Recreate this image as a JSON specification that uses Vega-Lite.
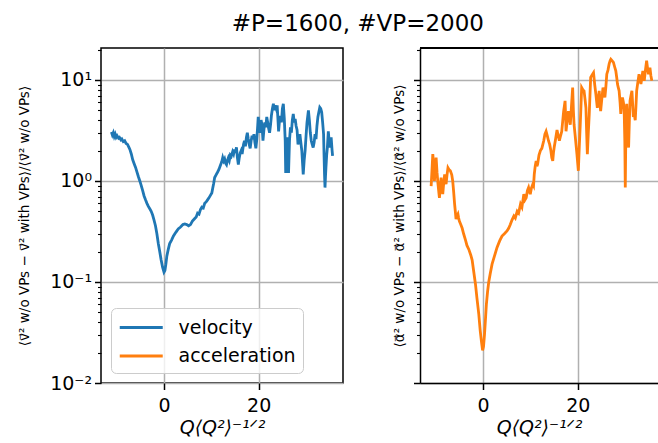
{
  "$schema": "https://vega.github.io/schema/vega-lite/v6.json",
  "padding": {"left": 16, "top": 13, "right": 0, "bottom": 0},
  "title": {"text": "#P=1600, #VP=2000", "fontSize": 23, "fontWeight": "normal", "font": "DejaVu Sans", "color": "black", "anchor": "middle", "offset": 11, "dx": 20},
  "config": {
    "font": "DejaVu Sans",
    "view": {"stroke": "black", "strokeWidth": 1.5},
    "axis": {"labelColor": "black", "titleColor": "black", "tickColor": "black", "domainColor": "black", "domainWidth": 1.5, "labelFont": "DejaVu Sans", "titleFont": "DejaVu Sans", "titleFontWeight": "normal", "gridColor": "#b0b0b0", "gridWidth": 1.5}
  },
  "datasets": {
    "curves": [
      {"q": -11.1, "ratio": 3.05, "series": "velocity"},
      {"q": -10.9, "ratio": 2.85, "series": "velocity"},
      {"q": -10.7, "ratio": 3.0, "series": "velocity"},
      {"q": -10.5, "ratio": 2.75, "series": "velocity"},
      {"q": -10.3, "ratio": 2.9, "series": "velocity"},
      {"q": -10.1, "ratio": 2.7, "series": "velocity"},
      {"q": -9.9, "ratio": 2.8, "series": "velocity"},
      {"q": -9.6, "ratio": 2.65, "series": "velocity"},
      {"q": -9.4, "ratio": 2.7, "series": "velocity"},
      {"q": -9.1, "ratio": 2.55, "series": "velocity"},
      {"q": -8.9, "ratio": 2.6, "series": "velocity"},
      {"q": -8.6, "ratio": 2.45, "series": "velocity"},
      {"q": -8.3, "ratio": 2.5, "series": "velocity"},
      {"q": -8.0, "ratio": 2.35, "series": "velocity"},
      {"q": -7.7, "ratio": 2.3, "series": "velocity"},
      {"q": -7.4, "ratio": 2.15, "series": "velocity"},
      {"q": -7.2, "ratio": 2.05, "series": "velocity"},
      {"q": -6.9, "ratio": 1.85, "series": "velocity"},
      {"q": -6.6, "ratio": 1.62, "series": "velocity"},
      {"q": -6.3, "ratio": 1.48, "series": "velocity"},
      {"q": -6.0, "ratio": 1.36, "series": "velocity"},
      {"q": -5.7, "ratio": 1.22, "series": "velocity"},
      {"q": -5.4, "ratio": 1.1, "series": "velocity"},
      {"q": -5.1, "ratio": 1.0, "series": "velocity"},
      {"q": -4.8, "ratio": 0.9, "series": "velocity"},
      {"q": -4.5, "ratio": 0.8, "series": "velocity"},
      {"q": -4.2, "ratio": 0.71, "series": "velocity"},
      {"q": -3.9, "ratio": 0.65, "series": "velocity"},
      {"q": -3.6, "ratio": 0.6, "series": "velocity"},
      {"q": -3.3, "ratio": 0.56, "series": "velocity"},
      {"q": -3.0, "ratio": 0.53, "series": "velocity"},
      {"q": -2.7, "ratio": 0.5, "series": "velocity"},
      {"q": -2.4, "ratio": 0.46, "series": "velocity"},
      {"q": -2.1, "ratio": 0.41, "series": "velocity"},
      {"q": -1.8, "ratio": 0.36, "series": "velocity"},
      {"q": -1.5, "ratio": 0.3, "series": "velocity"},
      {"q": -1.2, "ratio": 0.24, "series": "velocity"},
      {"q": -0.9, "ratio": 0.2, "series": "velocity"},
      {"q": -0.6, "ratio": 0.165, "series": "velocity"},
      {"q": -0.3, "ratio": 0.14, "series": "velocity"},
      {"q": 0.0, "ratio": 0.125, "series": "velocity"},
      {"q": 0.2, "ratio": 0.13, "series": "velocity"},
      {"q": 0.4, "ratio": 0.15, "series": "velocity"},
      {"q": 0.6, "ratio": 0.18, "series": "velocity"},
      {"q": 0.9, "ratio": 0.21, "series": "velocity"},
      {"q": 1.2, "ratio": 0.24, "series": "velocity"},
      {"q": 1.6, "ratio": 0.26, "series": "velocity"},
      {"q": 2.0, "ratio": 0.285, "series": "velocity"},
      {"q": 2.5, "ratio": 0.31, "series": "velocity"},
      {"q": 3.0, "ratio": 0.335, "series": "velocity"},
      {"q": 3.5, "ratio": 0.35, "series": "velocity"},
      {"q": 4.0, "ratio": 0.37, "series": "velocity"},
      {"q": 4.4, "ratio": 0.375, "series": "velocity"},
      {"q": 4.8, "ratio": 0.37, "series": "velocity"},
      {"q": 5.2, "ratio": 0.36, "series": "velocity"},
      {"q": 5.6, "ratio": 0.37, "series": "velocity"},
      {"q": 6.0, "ratio": 0.4, "series": "velocity"},
      {"q": 6.4, "ratio": 0.42, "series": "velocity"},
      {"q": 6.8, "ratio": 0.44, "series": "velocity"},
      {"q": 7.1, "ratio": 0.48, "series": "velocity"},
      {"q": 7.4, "ratio": 0.47, "series": "velocity"},
      {"q": 7.7, "ratio": 0.52, "series": "velocity"},
      {"q": 8.0, "ratio": 0.55, "series": "velocity"},
      {"q": 8.3, "ratio": 0.54, "series": "velocity"},
      {"q": 8.6, "ratio": 0.6, "series": "velocity"},
      {"q": 8.9, "ratio": 0.62, "series": "velocity"},
      {"q": 9.2, "ratio": 0.65, "series": "velocity"},
      {"q": 9.5, "ratio": 0.68, "series": "velocity"},
      {"q": 9.8, "ratio": 0.72, "series": "velocity"},
      {"q": 10.1, "ratio": 0.76, "series": "velocity"},
      {"q": 10.3, "ratio": 0.85, "series": "velocity"},
      {"q": 10.5, "ratio": 0.95, "series": "velocity"},
      {"q": 10.7, "ratio": 1.08, "series": "velocity"},
      {"q": 11.0, "ratio": 1.15, "series": "velocity"},
      {"q": 11.3, "ratio": 1.22, "series": "velocity"},
      {"q": 11.6, "ratio": 1.3, "series": "velocity"},
      {"q": 11.9, "ratio": 1.42, "series": "velocity"},
      {"q": 12.2, "ratio": 1.55, "series": "velocity"},
      {"q": 12.4, "ratio": 1.7, "series": "velocity"},
      {"q": 12.6, "ratio": 1.58, "series": "velocity"},
      {"q": 12.8, "ratio": 1.65, "series": "velocity"},
      {"q": 13.0, "ratio": 1.5, "series": "velocity"},
      {"q": 13.2, "ratio": 1.45, "series": "velocity"},
      {"q": 13.4, "ratio": 1.6, "series": "velocity"},
      {"q": 13.6, "ratio": 1.7, "series": "velocity"},
      {"q": 13.8, "ratio": 1.6, "series": "velocity"},
      {"q": 14.0, "ratio": 1.8, "series": "velocity"},
      {"q": 14.2, "ratio": 1.75, "series": "velocity"},
      {"q": 14.5, "ratio": 1.95, "series": "velocity"},
      {"q": 14.7, "ratio": 1.85, "series": "velocity"},
      {"q": 14.9, "ratio": 2.05, "series": "velocity"},
      {"q": 15.1, "ratio": 1.9, "series": "velocity"},
      {"q": 15.3, "ratio": 2.15, "series": "velocity"},
      {"q": 15.5, "ratio": 1.7, "series": "velocity"},
      {"q": 15.7, "ratio": 1.45, "series": "velocity"},
      {"q": 15.9, "ratio": 1.7, "series": "velocity"},
      {"q": 16.1, "ratio": 1.9, "series": "velocity"},
      {"q": 16.3, "ratio": 2.0, "series": "velocity"},
      {"q": 16.5, "ratio": 1.85, "series": "velocity"},
      {"q": 16.8, "ratio": 2.3, "series": "velocity"},
      {"q": 17.0, "ratio": 2.5, "series": "velocity"},
      {"q": 17.2, "ratio": 2.2, "series": "velocity"},
      {"q": 17.4, "ratio": 2.7, "series": "velocity"},
      {"q": 17.6, "ratio": 3.0, "series": "velocity"},
      {"q": 17.8, "ratio": 2.6, "series": "velocity"},
      {"q": 18.0, "ratio": 2.3, "series": "velocity"},
      {"q": 18.2, "ratio": 2.1, "series": "velocity"},
      {"q": 18.4, "ratio": 2.5, "series": "velocity"},
      {"q": 18.6, "ratio": 2.8, "series": "velocity"},
      {"q": 18.8, "ratio": 2.6, "series": "velocity"},
      {"q": 19.0, "ratio": 2.9, "series": "velocity"},
      {"q": 19.2, "ratio": 2.4, "series": "velocity"},
      {"q": 19.4, "ratio": 2.1, "series": "velocity"},
      {"q": 19.6, "ratio": 2.6, "series": "velocity"},
      {"q": 19.8, "ratio": 3.6, "series": "velocity"},
      {"q": 19.9, "ratio": 4.3, "series": "velocity"},
      {"q": 20.1, "ratio": 3.5, "series": "velocity"},
      {"q": 20.3, "ratio": 3.0, "series": "velocity"},
      {"q": 20.5, "ratio": 4.0, "series": "velocity"},
      {"q": 20.7, "ratio": 3.6, "series": "velocity"},
      {"q": 20.9, "ratio": 2.5, "series": "velocity"},
      {"q": 21.1, "ratio": 3.2, "series": "velocity"},
      {"q": 21.3, "ratio": 3.8, "series": "velocity"},
      {"q": 21.5, "ratio": 3.4, "series": "velocity"},
      {"q": 21.7, "ratio": 4.3, "series": "velocity"},
      {"q": 21.9, "ratio": 3.8, "series": "velocity"},
      {"q": 22.1, "ratio": 3.3, "series": "velocity"},
      {"q": 22.3, "ratio": 3.0, "series": "velocity"},
      {"q": 22.5, "ratio": 3.6, "series": "velocity"},
      {"q": 22.7, "ratio": 4.5, "series": "velocity"},
      {"q": 22.9, "ratio": 5.2, "series": "velocity"},
      {"q": 23.1, "ratio": 5.8, "series": "velocity"},
      {"q": 23.3, "ratio": 5.0, "series": "velocity"},
      {"q": 23.5, "ratio": 5.6, "series": "velocity"},
      {"q": 23.7, "ratio": 5.2, "series": "velocity"},
      {"q": 23.9, "ratio": 5.6, "series": "velocity"},
      {"q": 24.1, "ratio": 3.8, "series": "velocity"},
      {"q": 24.2, "ratio": 3.1, "series": "velocity"},
      {"q": 24.4, "ratio": 4.0, "series": "velocity"},
      {"q": 24.6, "ratio": 4.4, "series": "velocity"},
      {"q": 24.8, "ratio": 3.8, "series": "velocity"},
      {"q": 25.0, "ratio": 5.2, "series": "velocity"},
      {"q": 25.2, "ratio": 5.8, "series": "velocity"},
      {"q": 25.4, "ratio": 4.2, "series": "velocity"},
      {"q": 25.6, "ratio": 2.5, "series": "velocity"},
      {"q": 25.7, "ratio": 1.2, "series": "velocity"},
      {"q": 25.9, "ratio": 2.0, "series": "velocity"},
      {"q": 26.1, "ratio": 2.7, "series": "velocity"},
      {"q": 26.3, "ratio": 1.2, "series": "velocity"},
      {"q": 26.5, "ratio": 2.5, "series": "velocity"},
      {"q": 26.7, "ratio": 3.4, "series": "velocity"},
      {"q": 26.9, "ratio": 3.0, "series": "velocity"},
      {"q": 27.1, "ratio": 4.0, "series": "velocity"},
      {"q": 27.3, "ratio": 4.6, "series": "velocity"},
      {"q": 27.5, "ratio": 3.8, "series": "velocity"},
      {"q": 27.7, "ratio": 4.1, "series": "velocity"},
      {"q": 27.9, "ratio": 3.5, "series": "velocity"},
      {"q": 28.1, "ratio": 3.2, "series": "velocity"},
      {"q": 28.3, "ratio": 2.3, "series": "velocity"},
      {"q": 28.5, "ratio": 2.6, "series": "velocity"},
      {"q": 28.7, "ratio": 2.9, "series": "velocity"},
      {"q": 28.9, "ratio": 2.4, "series": "velocity"},
      {"q": 29.1, "ratio": 2.0, "series": "velocity"},
      {"q": 29.3, "ratio": 1.4, "series": "velocity"},
      {"q": 29.4, "ratio": 1.16, "series": "velocity"},
      {"q": 29.6, "ratio": 1.6, "series": "velocity"},
      {"q": 29.8, "ratio": 2.0, "series": "velocity"},
      {"q": 30.0, "ratio": 2.8, "series": "velocity"},
      {"q": 30.2, "ratio": 3.8, "series": "velocity"},
      {"q": 30.5, "ratio": 5.0, "series": "velocity"},
      {"q": 30.7, "ratio": 4.0, "series": "velocity"},
      {"q": 30.9, "ratio": 3.0, "series": "velocity"},
      {"q": 31.1, "ratio": 2.5, "series": "velocity"},
      {"q": 31.3, "ratio": 2.3, "series": "velocity"},
      {"q": 31.5, "ratio": 2.14, "series": "velocity"},
      {"q": 31.7, "ratio": 2.4, "series": "velocity"},
      {"q": 31.9, "ratio": 2.9, "series": "velocity"},
      {"q": 32.1, "ratio": 2.6, "series": "velocity"},
      {"q": 32.3, "ratio": 3.5, "series": "velocity"},
      {"q": 32.5, "ratio": 4.3, "series": "velocity"},
      {"q": 32.7, "ratio": 4.8, "series": "velocity"},
      {"q": 32.9, "ratio": 5.35, "series": "velocity"},
      {"q": 33.1, "ratio": 5.2, "series": "velocity"},
      {"q": 33.3, "ratio": 4.8, "series": "velocity"},
      {"q": 33.5, "ratio": 3.8, "series": "velocity"},
      {"q": 33.7, "ratio": 2.9, "series": "velocity"},
      {"q": 33.8, "ratio": 1.8, "series": "velocity"},
      {"q": 33.9, "ratio": 1.16, "series": "velocity"},
      {"q": 34.0, "ratio": 0.86, "series": "velocity"},
      {"q": 34.1, "ratio": 1.1, "series": "velocity"},
      {"q": 34.2, "ratio": 1.36, "series": "velocity"},
      {"q": 34.35, "ratio": 1.8, "series": "velocity"},
      {"q": 34.5, "ratio": 2.14, "series": "velocity"},
      {"q": 34.7, "ratio": 3.1, "series": "velocity"},
      {"q": 34.9, "ratio": 2.4, "series": "velocity"},
      {"q": 35.1, "ratio": 2.14, "series": "velocity"},
      {"q": 35.3, "ratio": 2.7, "series": "velocity"},
      {"q": 35.5, "ratio": 2.0, "series": "velocity"},
      {"q": 35.6, "ratio": 1.77, "series": "velocity"},
      {"q": -10.95, "ratio": 0.89, "series": "acceleration"},
      {"q": -10.8, "ratio": 1.2, "series": "acceleration"},
      {"q": -10.6, "ratio": 1.84, "series": "acceleration"},
      {"q": -10.4, "ratio": 1.4, "series": "acceleration"},
      {"q": -10.25, "ratio": 1.0, "series": "acceleration"},
      {"q": -10.1, "ratio": 1.3, "series": "acceleration"},
      {"q": -9.9, "ratio": 1.7, "series": "acceleration"},
      {"q": -9.7, "ratio": 1.2, "series": "acceleration"},
      {"q": -9.5, "ratio": 0.93, "series": "acceleration"},
      {"q": -9.3, "ratio": 0.75, "series": "acceleration"},
      {"q": -9.2, "ratio": 0.68, "series": "acceleration"},
      {"q": -9.0, "ratio": 0.9, "series": "acceleration"},
      {"q": -8.85, "ratio": 1.08, "series": "acceleration"},
      {"q": -8.7, "ratio": 0.85, "series": "acceleration"},
      {"q": -8.5, "ratio": 0.74, "series": "acceleration"},
      {"q": -8.3, "ratio": 0.95, "series": "acceleration"},
      {"q": -8.1, "ratio": 1.16, "series": "acceleration"},
      {"q": -7.95, "ratio": 1.0, "series": "acceleration"},
      {"q": -7.8, "ratio": 0.93, "series": "acceleration"},
      {"q": -7.6, "ratio": 1.15, "series": "acceleration"},
      {"q": -7.4, "ratio": 1.35, "series": "acceleration"},
      {"q": -7.2, "ratio": 1.3, "series": "acceleration"},
      {"q": -6.9, "ratio": 1.26, "series": "acceleration"},
      {"q": -6.6, "ratio": 1.15, "series": "acceleration"},
      {"q": -6.4, "ratio": 1.0, "series": "acceleration"},
      {"q": -6.2, "ratio": 0.78, "series": "acceleration"},
      {"q": -6.0, "ratio": 0.59, "series": "acceleration"},
      {"q": -5.85, "ratio": 0.5, "series": "acceleration"},
      {"q": -5.7, "ratio": 0.42, "series": "acceleration"},
      {"q": -5.5, "ratio": 0.45, "series": "acceleration"},
      {"q": -5.3, "ratio": 0.47, "series": "acceleration"},
      {"q": -5.15, "ratio": 0.43, "series": "acceleration"},
      {"q": -5.0, "ratio": 0.4, "series": "acceleration"},
      {"q": -4.7, "ratio": 0.37, "series": "acceleration"},
      {"q": -4.4, "ratio": 0.34, "series": "acceleration"},
      {"q": -4.1, "ratio": 0.3, "series": "acceleration"},
      {"q": -3.7, "ratio": 0.26, "series": "acceleration"},
      {"q": -3.4, "ratio": 0.23, "series": "acceleration"},
      {"q": -3.0, "ratio": 0.21, "series": "acceleration"},
      {"q": -2.6, "ratio": 0.185, "series": "acceleration"},
      {"q": -2.3, "ratio": 0.165, "series": "acceleration"},
      {"q": -2.0, "ratio": 0.13, "series": "acceleration"},
      {"q": -1.6, "ratio": 0.095, "series": "acceleration"},
      {"q": -1.3, "ratio": 0.07, "series": "acceleration"},
      {"q": -0.9, "ratio": 0.048, "series": "acceleration"},
      {"q": -0.6, "ratio": 0.033, "series": "acceleration"},
      {"q": -0.35, "ratio": 0.026, "series": "acceleration"},
      {"q": -0.1, "ratio": 0.021, "series": "acceleration"},
      {"q": 0.1, "ratio": 0.023, "series": "acceleration"},
      {"q": 0.3, "ratio": 0.03, "series": "acceleration"},
      {"q": 0.5, "ratio": 0.042, "series": "acceleration"},
      {"q": 0.7, "ratio": 0.06, "series": "acceleration"},
      {"q": 0.95, "ratio": 0.08, "series": "acceleration"},
      {"q": 1.2, "ratio": 0.1, "series": "acceleration"},
      {"q": 1.5, "ratio": 0.12, "series": "acceleration"},
      {"q": 1.9, "ratio": 0.15, "series": "acceleration"},
      {"q": 2.4, "ratio": 0.18, "series": "acceleration"},
      {"q": 2.95, "ratio": 0.22, "series": "acceleration"},
      {"q": 3.5, "ratio": 0.255, "series": "acceleration"},
      {"q": 4.0, "ratio": 0.285, "series": "acceleration"},
      {"q": 4.5, "ratio": 0.3, "series": "acceleration"},
      {"q": 5.05, "ratio": 0.32, "series": "acceleration"},
      {"q": 5.4, "ratio": 0.34, "series": "acceleration"},
      {"q": 5.75, "ratio": 0.37, "series": "acceleration"},
      {"q": 6.1, "ratio": 0.41, "series": "acceleration"},
      {"q": 6.5, "ratio": 0.45, "series": "acceleration"},
      {"q": 6.8, "ratio": 0.43, "series": "acceleration"},
      {"q": 7.2, "ratio": 0.5, "series": "acceleration"},
      {"q": 7.5, "ratio": 0.48, "series": "acceleration"},
      {"q": 7.9, "ratio": 0.59, "series": "acceleration"},
      {"q": 8.2, "ratio": 0.55, "series": "acceleration"},
      {"q": 8.6, "ratio": 0.74, "series": "acceleration"},
      {"q": 8.85, "ratio": 0.65, "series": "acceleration"},
      {"q": 9.1, "ratio": 0.68, "series": "acceleration"},
      {"q": 9.35, "ratio": 0.8, "series": "acceleration"},
      {"q": 9.6, "ratio": 0.86, "series": "acceleration"},
      {"q": 9.8, "ratio": 0.78, "series": "acceleration"},
      {"q": 9.96, "ratio": 0.74, "series": "acceleration"},
      {"q": 10.2, "ratio": 0.85, "series": "acceleration"},
      {"q": 10.5, "ratio": 0.93, "series": "acceleration"},
      {"q": 10.65, "ratio": 0.9, "series": "acceleration"},
      {"q": 10.8, "ratio": 1.16, "series": "acceleration"},
      {"q": 11.0, "ratio": 1.4, "series": "acceleration"},
      {"q": 11.2, "ratio": 1.58, "series": "acceleration"},
      {"q": 11.35, "ratio": 1.4, "series": "acceleration"},
      {"q": 11.5, "ratio": 1.46, "series": "acceleration"},
      {"q": 11.8, "ratio": 1.8, "series": "acceleration"},
      {"q": 12.1, "ratio": 2.0, "series": "acceleration"},
      {"q": 12.4, "ratio": 2.1, "series": "acceleration"},
      {"q": 12.8, "ratio": 2.5, "series": "acceleration"},
      {"q": 13.05, "ratio": 2.9, "series": "acceleration"},
      {"q": 13.3, "ratio": 3.1, "series": "acceleration"},
      {"q": 13.55, "ratio": 2.8, "series": "acceleration"},
      {"q": 13.8, "ratio": 2.5, "series": "acceleration"},
      {"q": 14.05, "ratio": 2.3, "series": "acceleration"},
      {"q": 14.3, "ratio": 2.0, "series": "acceleration"},
      {"q": 14.5, "ratio": 1.7, "series": "acceleration"},
      {"q": 14.7, "ratio": 1.58, "series": "acceleration"},
      {"q": 14.85, "ratio": 1.9, "series": "acceleration"},
      {"q": 15.0, "ratio": 2.14, "series": "acceleration"},
      {"q": 15.3, "ratio": 2.6, "series": "acceleration"},
      {"q": 15.6, "ratio": 3.2, "series": "acceleration"},
      {"q": 15.85, "ratio": 2.8, "series": "acceleration"},
      {"q": 16.1, "ratio": 2.5, "series": "acceleration"},
      {"q": 16.35, "ratio": 2.8, "series": "acceleration"},
      {"q": 16.6, "ratio": 3.1, "series": "acceleration"},
      {"q": 16.8, "ratio": 3.9, "series": "acceleration"},
      {"q": 17.0, "ratio": 4.9, "series": "acceleration"},
      {"q": 17.15, "ratio": 5.5, "series": "acceleration"},
      {"q": 17.3, "ratio": 6.2, "series": "acceleration"},
      {"q": 17.4, "ratio": 4.5, "series": "acceleration"},
      {"q": 17.5, "ratio": 3.1, "series": "acceleration"},
      {"q": 17.75, "ratio": 4.0, "series": "acceleration"},
      {"q": 18.0, "ratio": 4.9, "series": "acceleration"},
      {"q": 18.2, "ratio": 4.2, "series": "acceleration"},
      {"q": 18.4, "ratio": 3.6, "series": "acceleration"},
      {"q": 18.65, "ratio": 5.5, "series": "acceleration"},
      {"q": 18.9, "ratio": 8.4, "series": "acceleration"},
      {"q": 19.05, "ratio": 5.0, "series": "acceleration"},
      {"q": 19.2, "ratio": 3.6, "series": "acceleration"},
      {"q": 19.5, "ratio": 2.6, "series": "acceleration"},
      {"q": 19.8, "ratio": 1.84, "series": "acceleration"},
      {"q": 20.1, "ratio": 1.26, "series": "acceleration"},
      {"q": 20.3, "ratio": 2.2, "series": "acceleration"},
      {"q": 20.5, "ratio": 3.6, "series": "acceleration"},
      {"q": 20.65, "ratio": 5.5, "series": "acceleration"},
      {"q": 20.8, "ratio": 8.4, "series": "acceleration"},
      {"q": 21.05, "ratio": 8.0, "series": "acceleration"},
      {"q": 21.3, "ratio": 7.8, "series": "acceleration"},
      {"q": 21.5, "ratio": 6.5, "series": "acceleration"},
      {"q": 21.7, "ratio": 5.3, "series": "acceleration"},
      {"q": 21.85, "ratio": 3.0, "series": "acceleration"},
      {"q": 22.0, "ratio": 1.84, "series": "acceleration"},
      {"q": 22.2, "ratio": 3.0, "series": "acceleration"},
      {"q": 22.4, "ratio": 4.6, "series": "acceleration"},
      {"q": 22.55, "ratio": 7.0, "series": "acceleration"},
      {"q": 22.7, "ratio": 10.6, "series": "acceleration"},
      {"q": 23.0, "ratio": 11.2, "series": "acceleration"},
      {"q": 23.3, "ratio": 11.8, "series": "acceleration"},
      {"q": 23.55, "ratio": 9.0, "series": "acceleration"},
      {"q": 23.8, "ratio": 7.2, "series": "acceleration"},
      {"q": 24.1, "ratio": 5.3, "series": "acceleration"},
      {"q": 24.3, "ratio": 6.5, "series": "acceleration"},
      {"q": 24.5, "ratio": 7.8, "series": "acceleration"},
      {"q": 24.65, "ratio": 6.0, "series": "acceleration"},
      {"q": 24.8, "ratio": 4.9, "series": "acceleration"},
      {"q": 25.05, "ratio": 6.5, "series": "acceleration"},
      {"q": 25.3, "ratio": 8.4, "series": "acceleration"},
      {"q": 25.5, "ratio": 7.5, "series": "acceleration"},
      {"q": 25.7, "ratio": 6.7, "series": "acceleration"},
      {"q": 25.9, "ratio": 8.5, "series": "acceleration"},
      {"q": 26.1, "ratio": 11.4, "series": "acceleration"},
      {"q": 26.35, "ratio": 12.5, "series": "acceleration"},
      {"q": 26.6, "ratio": 14.4, "series": "acceleration"},
      {"q": 26.8, "ratio": 15.5, "series": "acceleration"},
      {"q": 26.95, "ratio": 16.0, "series": "acceleration"},
      {"q": 27.2, "ratio": 15.5, "series": "acceleration"},
      {"q": 27.5, "ratio": 14.9, "series": "acceleration"},
      {"q": 27.75, "ratio": 13.5, "series": "acceleration"},
      {"q": 28.0, "ratio": 12.3, "series": "acceleration"},
      {"q": 28.2, "ratio": 10.5, "series": "acceleration"},
      {"q": 28.35, "ratio": 9.1, "series": "acceleration"},
      {"q": 28.5, "ratio": 8.5, "series": "acceleration"},
      {"q": 28.7, "ratio": 7.8, "series": "acceleration"},
      {"q": 28.9, "ratio": 6.0, "series": "acceleration"},
      {"q": 29.05, "ratio": 4.6, "series": "acceleration"},
      {"q": 29.25, "ratio": 5.8, "series": "acceleration"},
      {"q": 29.4, "ratio": 6.7, "series": "acceleration"},
      {"q": 29.6, "ratio": 6.0, "series": "acceleration"},
      {"q": 29.75, "ratio": 5.3, "series": "acceleration"},
      {"q": 29.9, "ratio": 2.5, "series": "acceleration"},
      {"q": 30.0, "ratio": 0.86, "series": "acceleration"},
      {"q": 30.1, "ratio": 2.5, "series": "acceleration"},
      {"q": 30.3, "ratio": 5.8, "series": "acceleration"},
      {"q": 30.5, "ratio": 3.5, "series": "acceleration"},
      {"q": 30.7, "ratio": 2.14, "series": "acceleration"},
      {"q": 30.85, "ratio": 3.8, "series": "acceleration"},
      {"q": 31.0, "ratio": 6.2, "series": "acceleration"},
      {"q": 31.2, "ratio": 7.0, "series": "acceleration"},
      {"q": 31.4, "ratio": 7.8, "series": "acceleration"},
      {"q": 31.55, "ratio": 5.8, "series": "acceleration"},
      {"q": 31.7, "ratio": 4.3, "series": "acceleration"},
      {"q": 31.9, "ratio": 4.5, "series": "acceleration"},
      {"q": 32.1, "ratio": 4.0, "series": "acceleration"},
      {"q": 32.25, "ratio": 5.5, "series": "acceleration"},
      {"q": 32.4, "ratio": 7.8, "series": "acceleration"},
      {"q": 32.65, "ratio": 9.5, "series": "acceleration"},
      {"q": 32.9, "ratio": 11.4, "series": "acceleration"},
      {"q": 33.1, "ratio": 10.2, "series": "acceleration"},
      {"q": 33.3, "ratio": 9.1, "series": "acceleration"},
      {"q": 33.5, "ratio": 10.5, "series": "acceleration"},
      {"q": 33.7, "ratio": 12.3, "series": "acceleration"},
      {"q": 33.85, "ratio": 11.0, "series": "acceleration"},
      {"q": 34.0, "ratio": 9.8, "series": "acceleration"},
      {"q": 34.25, "ratio": 12.5, "series": "acceleration"},
      {"q": 34.5, "ratio": 15.5, "series": "acceleration"},
      {"q": 34.7, "ratio": 13.0, "series": "acceleration"},
      {"q": 34.9, "ratio": 11.4, "series": "acceleration"},
      {"q": 35.05, "ratio": 12.5, "series": "acceleration"},
      {"q": 35.2, "ratio": 13.2, "series": "acceleration"},
      {"q": 35.4, "ratio": 11.0, "series": "acceleration"},
      {"q": 35.6, "ratio": 9.8, "series": "acceleration"}
    ]
  },
  "data": {"name": "curves"},
  "spacing": 48,
  "resolve": {"legend": {"color": "independent"}},
  "hconcat": [
    {
      "width": 242,
      "height": 335,
      "transform": [{"filter": "datum.series === 'velocity'"}],
      "mark": {"type": "line", "strokeWidth": 2.8, "clip": true},
      "encoding": {
        "x": {
          "field": "q", "type": "quantitative",
          "scale": {"domain": [-13.3, 37.8], "nice": false, "zero": false},
          "axis": {"title": "Q⟨Q²⟩⁻¹ᐟ²", "titleFontStyle": "italic", "titleFontSize": 19, "values": [0, 20], "labelFontSize": 19, "tickSize": 6.5, "tickWidth": 1.5, "grid": true, "domain": false, "labelPadding": 7, "titlePadding": 3}
        },
        "y": {
          "field": "ratio", "type": "quantitative",
          "scale": {"type": "log", "domain": [0.01, 20.7], "nice": false},
          "axis": {
            "title": "⟨v⃗² w/o VPs − v⃗² with VPs⟩/⟨v⃗² w/o VPs⟩",
            "titleFontSize": 13.5,
            "values": [0.01, 0.02, 0.03, 0.04, 0.05, 0.06, 0.07, 0.08, 0.09, 0.1, 0.2, 0.3, 0.4, 0.5, 0.6, 0.7, 0.8, 0.9, 1, 2, 3, 4, 5, 6, 7, 8, 9, 10, 20],
            "labelExpr": "datum.value == 0.01 ? '10⁻²' : datum.value == 0.1 ? '10⁻¹' : datum.value == 1 ? '10⁰' : datum.value == 10 ? '10¹' : ''",
            "labelFontSize": 19,
            "tickSize": {"condition": {"test": "indexof([0.01, 0.1, 1, 10], datum.value) >= 0", "value": 6.5}, "value": 3.5},
            "tickWidth": {"condition": {"test": "indexof([0.01, 0.1, 1, 10], datum.value) >= 0", "value": 1.5}, "value": 1.1},
            "grid": true,
            "gridOpacity": {"condition": {"test": "indexof([0.01, 0.1, 1, 10], datum.value) >= 0", "value": 1}, "value": 0},
            "domain": false,
            "labelPadding": 3,
            "titlePadding": 18
          }
        },
        "color": {
          "field": "series", "type": "nominal",
          "scale": {"domain": ["velocity", "acceleration"], "range": ["#1f77b4", "#ff7f0e"]},
          "legend": {"title": null, "orient": "bottom-left", "offset": 10, "symbolType": "M-1,0L3,0", "symbolSize": 462, "symbolStrokeWidth": 3, "labelFontSize": 19, "labelColor": "black", "labelOffset": 35.5, "padding": 7, "rowPadding": 5.5, "strokeColor": "#cccccc", "fillColor": "rgba(255,255,255,0.8)", "cornerRadius": 5}
        }
      }
    },
    {
      "width": 238,
      "height": 335,
      "view": {"stroke": null},
      "layer": [
        {
          "transform": [{"filter": "datum.series === 'acceleration'"}],
          "mark": {"type": "line", "strokeWidth": 2.8, "clip": true},
          "encoding": {
            "x": {
              "field": "q", "type": "quantitative",
              "scale": {"domain": [-13.3, 36.9], "nice": false, "zero": false},
              "axis": {"title": "Q⟨Q²⟩⁻¹ᐟ²", "titleFontStyle": "italic", "titleFontSize": 19, "values": [0, 20], "labelFontSize": 19, "tickSize": 6.5, "tickWidth": 1.5, "grid": true, "domain": true, "labelPadding": 7, "titlePadding": 3}
            },
            "y": {
              "field": "ratio", "type": "quantitative",
              "scale": {"type": "log", "domain": [0.01, 20.7], "nice": false},
              "axis": {
                "title": "⟨α⃗² w/o VPs − α⃗² with VPs⟩/⟨α⃗² w/o VPs⟩",
                "titleFontSize": 13.5,
                "values": [0.01, 0.02, 0.03, 0.04, 0.05, 0.06, 0.07, 0.08, 0.09, 0.1, 0.2, 0.3, 0.4, 0.5, 0.6, 0.7, 0.8, 0.9, 1, 2, 3, 4, 5, 6, 7, 8, 9, 10, 20],
                "labels": false,
                "tickSize": {"condition": {"test": "indexof([0.01, 0.1, 1, 10], datum.value) >= 0", "value": 6.5}, "value": 3.5},
                "tickWidth": {"condition": {"test": "indexof([0.01, 0.1, 1, 10], datum.value) >= 0", "value": 1.5}, "value": 1.1},
                "grid": true,
                "gridOpacity": {"condition": {"test": "indexof([0.01, 0.1, 1, 10], datum.value) >= 0", "value": 1}, "value": 0},
                "domain": true,
                "titlePadding": 6
              }
            },
            "color": {
              "field": "series", "type": "nominal",
              "scale": {"domain": ["velocity", "acceleration"], "range": ["#1f77b4", "#ff7f0e"]},
              "legend": null
            }
          }
        },
        {
          "mark": {"type": "rule", "color": "black", "strokeWidth": 1.5},
          "encoding": {"y": {"datum": 20.7, "type": "quantitative"}}
        }
      ]
    }
  ]
}
